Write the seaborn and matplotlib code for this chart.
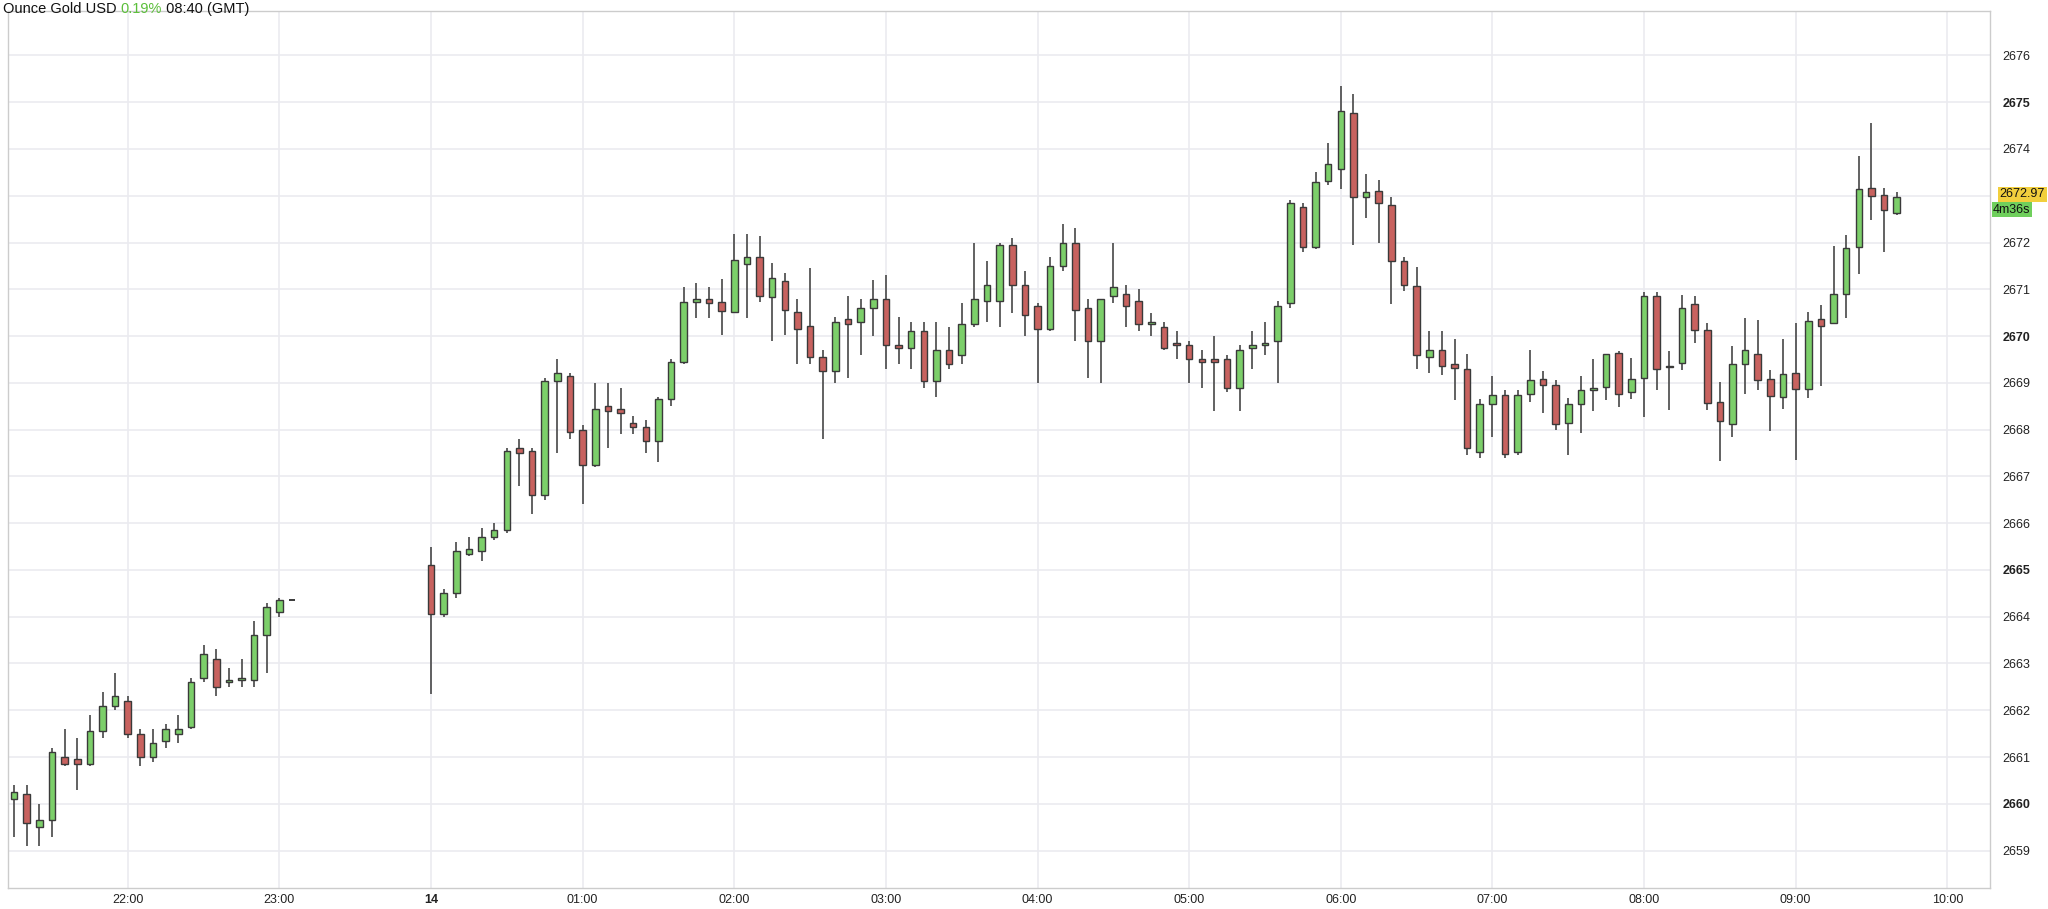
import pandas as pd
import numpy as np
import matplotlib
matplotlib.use("Agg")
import matplotlib.pyplot as plt
import seaborn as sns

# ---- data: 5-minute candles, Ounce Gold USD ----
# evening session (13th) 21:15 .. 23:05
eve_open = [2660.1, 2660.2, 2659.5, 2659.65, 2661.0, 2660.95, 2660.85, 2661.55, 2662.1, 2662.2,
            2661.5, 2661.0, 2661.35, 2661.5, 2661.65, 2662.7, 2663.1, 2662.6, 2662.65, 2662.65,
            2663.6, 2664.1, 2664.35]
eve_high = [2660.4, 2660.4, 2660.0, 2661.2, 2661.6, 2661.4, 2661.9, 2662.4, 2662.8, 2662.3,
            2661.6, 2661.6, 2661.7, 2661.9, 2662.7, 2663.4, 2663.3, 2662.9, 2663.1, 2663.9,
            2664.3, 2664.4, 2664.35]
eve_low = [2659.3, 2659.1, 2659.1, 2659.3, 2660.8, 2660.3, 2660.8, 2661.4, 2662.0, 2661.4,
           2660.8, 2660.9, 2661.2, 2661.3, 2661.6, 2662.6, 2662.3, 2662.5, 2662.5, 2662.5,
           2662.8, 2664.0, 2664.35]
eve_close = [2660.25, 2659.6, 2659.65, 2661.1, 2660.85, 2660.85, 2661.55, 2662.1, 2662.3, 2661.5,
             2661.0, 2661.3, 2661.6, 2661.6, 2662.6, 2663.2, 2662.5, 2662.65, 2662.7, 2663.6,
             2664.2, 2664.35, 2664.35]

# day session (14th) 00:00 .. 09:40
day_open = [2665.1, 2664.05, 2664.5, 2665.35, 2665.4, 2665.7, 2665.85, 2667.6, 2667.55, 2666.6,
            2669.05, 2669.15, 2668.0, 2667.25, 2668.5, 2668.45, 2668.15, 2668.05, 2667.75, 2668.65,
            2669.45, 2670.73, 2670.79, 2670.72, 2670.51, 2671.55, 2671.68, 2670.84, 2671.18, 2670.51,
            2670.21, 2669.55, 2669.25, 2670.37, 2670.3, 2670.6, 2670.8, 2669.8, 2669.75, 2670.1,
            2669.05, 2669.7, 2669.6, 2670.25, 2670.75, 2670.75, 2671.95, 2671.1, 2670.65, 2670.15,
            2671.5, 2672.0, 2670.6, 2669.9, 2670.85, 2670.9, 2670.75, 2670.25, 2670.2, 2669.85,
            2669.8, 2669.5, 2669.5, 2669.5, 2668.9, 2669.75, 2669.8, 2669.9, 2670.7, 2672.77,
            2671.9, 2673.31, 2673.58, 2674.77, 2672.97, 2673.1, 2672.8, 2671.6, 2671.08, 2669.55,
            2669.7, 2669.4, 2669.3, 2667.52, 2668.55, 2668.75, 2667.52, 2668.76, 2669.08, 2668.95,
            2668.14, 2668.54, 2668.84, 2668.92, 2669.64, 2668.81, 2669.11, 2670.86, 2669.35, 2669.43,
            2670.69, 2670.14, 2668.6, 2668.13, 2669.41, 2669.61, 2669.09, 2668.7, 2669.21, 2668.86,
            2670.36, 2670.27, 2670.91, 2671.9, 2673.16, 2673.01, 2672.64]
day_high = [2665.5, 2664.6, 2665.6, 2665.7, 2665.9, 2666.0, 2667.6, 2667.8, 2667.6, 2669.1,
            2669.5, 2669.2, 2668.1, 2669.0, 2669.0, 2668.9, 2668.3, 2668.2, 2668.7, 2669.5,
            2671.04, 2671.14, 2671.04, 2671.21, 2672.19, 2672.19, 2672.14, 2671.57, 2671.34, 2670.79,
            2671.46, 2669.7, 2670.4, 2670.86, 2670.8, 2671.2, 2671.3, 2670.4, 2670.3, 2670.3,
            2670.3, 2670.2, 2670.7, 2672.0, 2671.6, 2672.0, 2672.1, 2671.4, 2670.7, 2671.7,
            2672.4, 2672.3, 2670.8, 2670.8, 2672.0, 2671.1, 2671.0, 2670.5, 2670.3, 2670.1,
            2669.9, 2669.7, 2670.0, 2669.6, 2669.8, 2670.1, 2670.3, 2670.75, 2672.9, 2672.85,
            2673.5, 2674.12, 2675.35, 2675.17, 2673.46, 2673.33, 2672.97, 2671.7, 2671.47, 2670.1,
            2670.1, 2669.93, 2669.62, 2668.66, 2669.14, 2668.84, 2668.84, 2669.71, 2669.25, 2669.07,
            2668.68, 2669.14, 2669.5, 2669.62, 2669.69, 2669.54, 2670.95, 2670.95, 2669.69, 2670.88,
            2670.86, 2670.29, 2669.02, 2669.79, 2670.38, 2670.34, 2669.27, 2669.93, 2670.27, 2670.52,
            2670.66, 2671.93, 2672.16, 2673.86, 2674.56, 2673.16, 2673.07]
day_low = [2662.35, 2664.0, 2664.4, 2665.3, 2665.2, 2665.65, 2665.8, 2666.8, 2666.2, 2666.5,
           2667.5, 2667.8, 2666.4, 2667.2, 2667.6, 2667.9, 2667.9, 2667.5, 2667.3, 2668.5,
           2669.4, 2670.39, 2670.38, 2670.02, 2670.5, 2670.38, 2670.73, 2669.9, 2670.02, 2669.4,
           2669.4, 2667.8, 2669.0, 2669.1, 2669.6, 2670.0, 2669.3, 2669.4, 2669.3, 2668.9,
           2668.7, 2669.3, 2669.4, 2670.2, 2670.3, 2670.2, 2670.5, 2670.0, 2669.0, 2670.1,
           2671.4, 2669.9, 2669.1, 2669.0, 2670.7, 2670.2, 2670.1, 2670.0, 2669.7, 2669.5,
           2669.0, 2668.9, 2668.4, 2668.8, 2668.4, 2669.3, 2669.6, 2669.0, 2670.6, 2671.8,
           2671.86, 2673.23, 2673.14, 2671.94, 2672.53, 2672.0, 2670.69, 2670.96, 2669.3, 2669.2,
           2669.16, 2668.64, 2667.46, 2667.4, 2667.84, 2667.4, 2667.45, 2668.6, 2668.36, 2668.0,
           2667.46, 2667.93, 2668.4, 2668.64, 2668.48, 2668.66, 2668.27, 2668.84, 2668.43, 2669.27,
           2669.86, 2668.43, 2667.33, 2667.84, 2668.77, 2668.84, 2667.97, 2668.45, 2667.34, 2668.68,
           2668.93, 2670.25, 2670.38, 2671.33, 2672.49, 2671.79, 2672.59]
day_close = [2664.05, 2664.5, 2665.4, 2665.45, 2665.7, 2665.85, 2667.55, 2667.5, 2666.6, 2669.05,
             2669.2, 2667.95, 2667.25, 2668.45, 2668.4, 2668.35, 2668.05, 2667.75, 2668.65, 2669.45,
             2670.73, 2670.79, 2670.7, 2670.54, 2671.62, 2671.69, 2670.86, 2671.24, 2670.56, 2670.16,
             2669.55, 2669.25, 2670.31, 2670.25, 2670.6, 2670.8, 2669.8, 2669.75, 2670.1, 2669.05,
             2669.7, 2669.4, 2670.25, 2670.8, 2671.1, 2671.95, 2671.1, 2670.45, 2670.15, 2671.5,
             2672.0, 2670.55, 2669.9, 2670.8, 2671.05, 2670.65, 2670.25, 2670.3, 2669.75, 2669.8,
             2669.5, 2669.45, 2669.45, 2668.9, 2669.7, 2669.8, 2669.85, 2670.65, 2672.85, 2671.9,
             2673.29, 2673.67, 2674.82, 2672.97, 2673.07, 2672.84, 2671.6, 2671.1, 2669.6, 2669.7,
             2669.35, 2669.32, 2667.6, 2668.55, 2668.73, 2667.48, 2668.75, 2669.06, 2668.95, 2668.12,
             2668.54, 2668.84, 2668.86, 2669.62, 2668.76, 2669.09, 2670.86, 2669.3, 2669.33, 2670.61,
             2670.14, 2668.56, 2668.19, 2669.41, 2669.71, 2669.07, 2668.72, 2669.18, 2668.86, 2670.33,
             2670.22, 2670.89, 2671.88, 2673.14, 2672.99, 2672.69, 2672.97]

hour_labels = ["22:00", "23:00", "14", "01:00", "02:00", "03:00", "04:00", "05:00",
               "06:00", "07:00", "08:00", "09:00", "10:00"]
price_ticks = list(range(2659, 2677))
bold_prices = [2660, 2665, 2670, 2675]
last_price = 2672.97
countdown = "4m36s"

# ---- build frame ----
eve = pd.DataFrame({"time": pd.date_range("2024-11-13 21:15", periods=len(eve_open), freq="5min"),
                    "open": eve_open, "high": eve_high, "low": eve_low, "close": eve_close})
day = pd.DataFrame({"time": pd.date_range("2024-11-14 00:00", periods=len(day_open), freq="5min"),
                    "open": day_open, "high": day_high, "low": day_low, "close": day_close})
df = pd.concat([eve, day], ignore_index=True)
t0 = pd.Timestamp("2024-11-13 21:00")
df["x"] = (df["time"] - t0).dt.total_seconds() / 60.0
df["up"] = df["close"] >= df["open"]

sns.set_theme(style="white")
plt.rcParams["font.family"] = ["Liberation Sans", "DejaVu Sans"]

GREEN = "#7ccf6a"
RED = "#c8625f"
EDGE = "#3a3a3a"
GRID = "#ebebf0"

fig = plt.figure(figsize=(20.48, 9.09), dpi=100)
ax = fig.add_axes([8 / 2048, 21 / 909, (1990 - 8) / 2048, (893 - 16) / 909])

ax.set_xlim(12.6, 796.9)
ax.set_ylim(2658.2, 2676.95)

hour_x = [60 * (i + 1) for i in range(len(hour_labels))]
for hx in hour_x:
    ax.axvline(hx, color=GRID, lw=1.2, zorder=0)
for p in price_ticks:
    ax.axhline(p, color=GRID, lw=1.2, zorder=0)

# wicks
ax.vlines(df["x"], df["low"], df["high"], color="#555555", lw=1.3, zorder=2)
# bodies
body_lo = df[["open", "close"]].min(axis=1)
body_h = (df["close"] - df["open"]).abs().clip(lower=0.04)
colors = np.where(df["up"], GREEN, RED)
flat = (df["close"] - df["open"]).abs() < 0.005
ax.bar(df.loc[~flat, "x"], body_h[~flat], bottom=body_lo[~flat], width=2.6,
       color=colors[~flat], edgecolor=EDGE, linewidth=1.0, zorder=3)
ax.hlines(df.loc[flat, "close"], df.loc[flat, "x"] - 1.3, df.loc[flat, "x"] + 1.3,
          color=EDGE, lw=1.4, zorder=3)

# axes cosmetics
ax.set_xticks(hour_x)
ax.set_xticklabels(hour_labels)
for lab in ax.get_xticklabels():
    if lab.get_text() == "14":
        lab.set_fontweight("bold")
ax.yaxis.tick_right()
ax.set_yticks(price_ticks)
ax.set_yticklabels([str(p) for p in price_ticks])
for lab in ax.get_yticklabels():
    if int(lab.get_text()) in bold_prices:
        lab.set_fontweight("bold")
ax.tick_params(axis="both", length=0, labelsize=9, colors="#222222")
ax.tick_params(axis="x", pad=4)
ax.tick_params(axis="y", pad=9)
for s in ax.spines.values():
    s.set_color("#cccccc")
    s.set_linewidth(1.0)

# last price tag + countdown
ax.annotate(f"{last_price:.2f}", xy=(1.0, last_price), xycoords=("axes fraction", "data"),
            xytext=(7, 2), textcoords="offset points", ha="left", va="center", fontsize=9,
            color="#111111", annotation_clip=False,
            bbox=dict(boxstyle="square,pad=0.15", fc="#f2cf3d", ec="none"))
ax.annotate(countdown, xy=(1.0, last_price), xycoords=("axes fraction", "data"),
            xytext=(2, -9), textcoords="offset points", ha="left", va="center", fontsize=9,
            color="#111111", annotation_clip=False,
            bbox=dict(boxstyle="square,pad=0.1", fc="#6fcf5c", ec="none"))

# header: pieces placed one after another
fig.canvas.draw()
renderer = fig.canvas.get_renderer()
hx, hy = 3 / 2048, 1 - 9 / 909
for piece, col in [("Ounce Gold USD ", "#111111"), ("0.19%", "#5bbf3a"), (" 08:40 (GMT)", "#111111")]:
    t = fig.text(hx, hy, piece, fontsize=10.5, va="center", ha="left", color=col)
    bb = t.get_window_extent(renderer)
    hx = bb.x1 / fig.bbox.width

fig.savefig("out.png", dpi=100)
